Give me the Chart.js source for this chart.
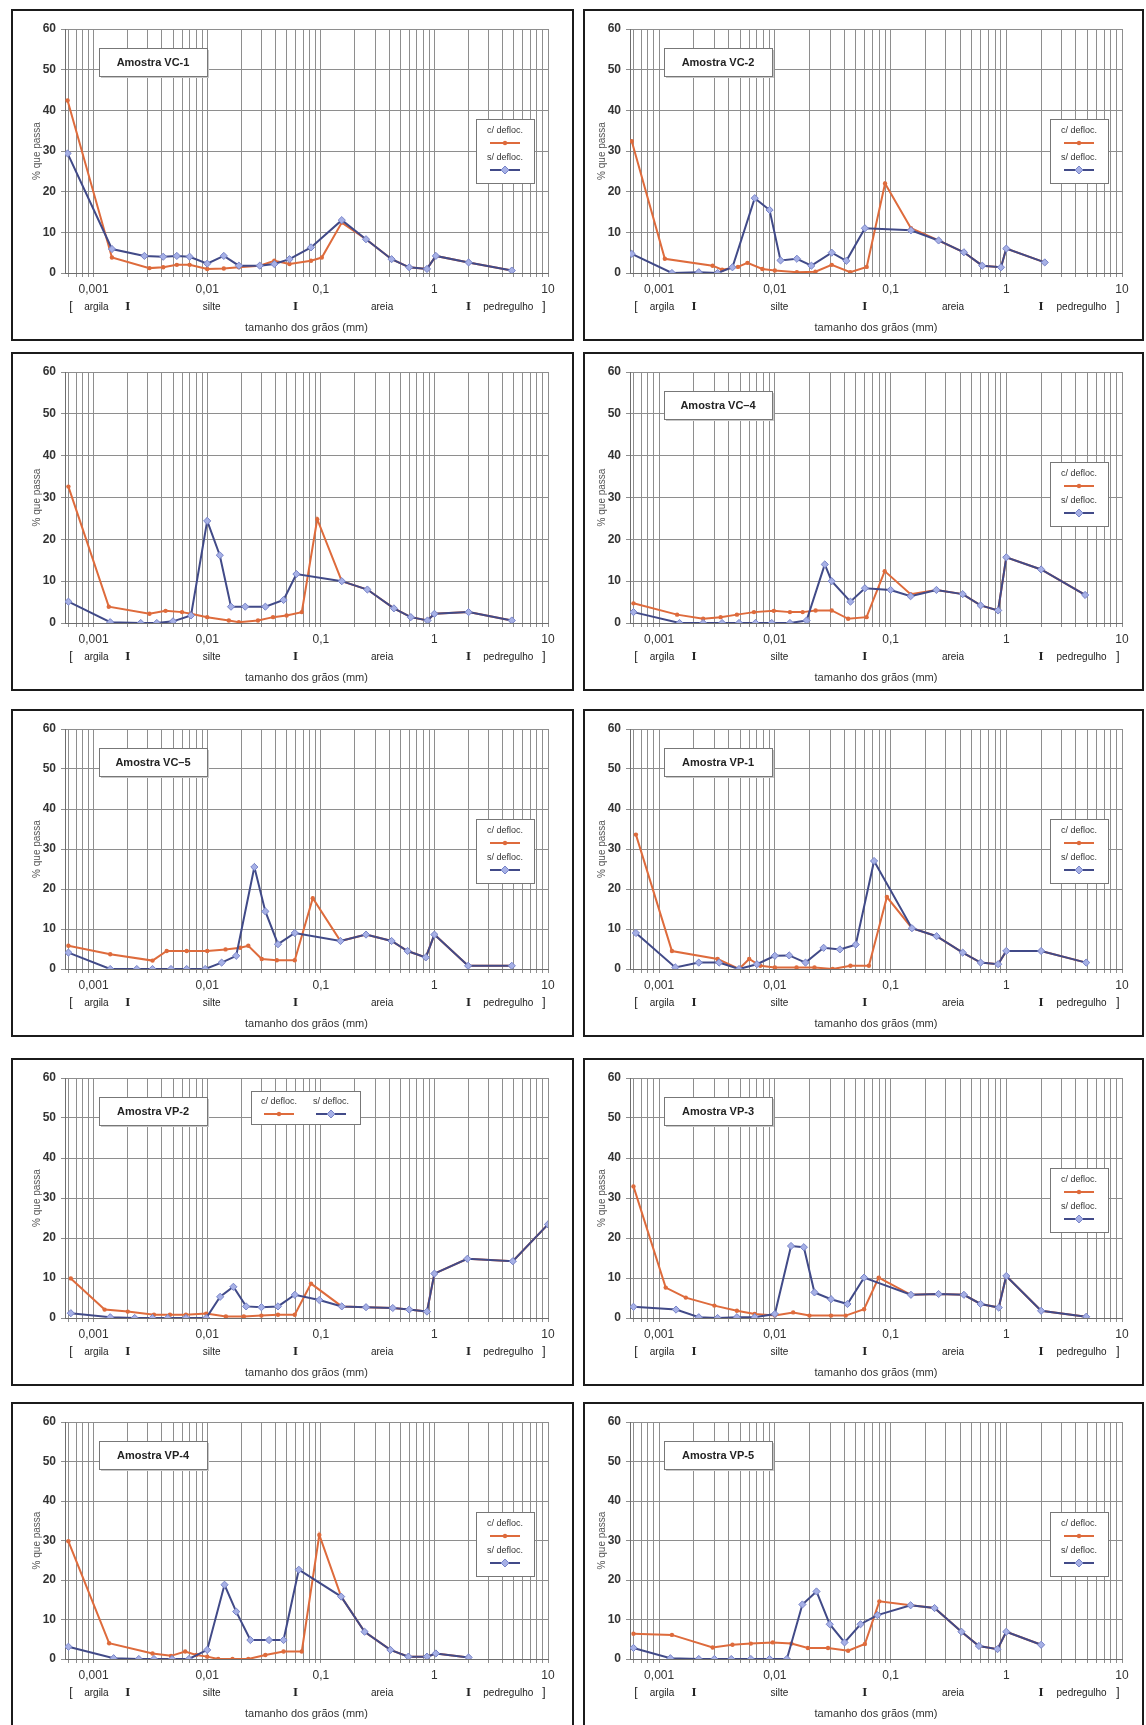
<!DOCTYPE html>
<html>
<head>
<meta charset="utf-8">
<script src="https://cdn.jsdelivr.net/npm/chart.js@4.4.1/dist/chart.umd.min.js"></script>
<style>
body { margin: 0; background: #fff; width: 1146px; height: 1725px; position: relative; overflow: hidden; }
.panel { position: absolute; border: 2px solid #1b1b1b; box-sizing: border-box; background: #fff; }
.panel canvas { position: absolute; left: 0; top: 0; }
</style>
</head>
<body>
<script>
// grain size (mm) vs % que passa, [diameter, percent]
const vc1Com = [[0.00059,42.4],[0.00145,3.8],[0.0031,1.2],[0.0041,1.4],[0.0054,2.0],[0.007,2.0],[0.01,1.0],[0.014,1.1],[0.019,1.4],[0.029,1.8],[0.039,3.0],[0.053,2.2],[0.082,3.0],[0.102,3.8],[0.153,12.4],[0.25,8.3],[0.42,3.4],[0.6,1.4],[0.86,1.0],[1.03,4.2],[2.0,2.6],[4.8,0.6]];
const vc1Sem = [[0.00059,29.4],[0.00145,5.9],[0.0028,4.2],[0.0041,4.0],[0.0054,4.2],[0.007,4.0],[0.01,2.3],[0.014,4.2],[0.019,1.8],[0.029,1.8],[0.039,2.2],[0.053,3.4],[0.082,6.3],[0.153,13.0],[0.25,8.3],[0.42,3.4],[0.6,1.4],[0.86,1.0],[1.03,4.2],[2.0,2.6],[4.8,0.6]];

const vc2Com = [[0.00058,32.4],[0.00112,3.5],[0.0029,1.8],[0.0035,0.8],[0.0048,1.5],[0.0058,2.5],[0.0078,1.0],[0.01,0.6],[0.0155,0.2],[0.0224,0.3],[0.031,2.0],[0.0448,0.2],[0.0622,1.5],[0.0896,22],[0.15,11],[0.26,8],[0.43,5.1],[0.62,1.8],[0.9,1.4],[1.0,6],[2.15,2.6]];
const vc2Sem = [[0.00058,4.7],[0.00129,0],[0.0022,0.2],[0.0032,0],[0.0043,1.4],[0.0067,18.4],[0.009,15.5],[0.0112,3.1],[0.0155,3.5],[0.0207,1.8],[0.031,5.0],[0.0415,3.0],[0.06,11],[0.15,10.5],[0.26,8],[0.43,5.1],[0.62,1.8],[0.9,1.4],[1.0,6],[2.15,2.6]];

const vc3Com = [[0.0006,32.6],[0.00136,3.9],[0.0031,2.2],[0.0043,2.9],[0.006,2.6],[0.0072,2.2],[0.01,1.4],[0.0155,0.6],[0.019,0.2],[0.028,0.6],[0.038,1.4],[0.05,1.8],[0.068,2.6],[0.093,24.8],[0.153,10],[0.257,8],[0.44,3.5],[0.62,1.4],[0.87,0.6],[1.0,2.2],[2.0,2.6],[4.8,0.6]];
const vc3Sem = [[0.0006,5.1],[0.0014,0.2],[0.0026,0],[0.0036,0],[0.005,0.4],[0.0072,1.8],[0.01,24.4],[0.0129,16.2],[0.0162,3.9],[0.0216,3.9],[0.0325,3.9],[0.047,5.5],[0.061,11.7],[0.153,10],[0.257,8],[0.44,3.5],[0.62,1.4],[0.87,0.6],[1.0,2.2],[2.0,2.6],[4.8,0.6]];

const vc4Com = [[0.0006,4.7],[0.00143,2.0],[0.0024,1.0],[0.0034,1.4],[0.0047,2.0],[0.0066,2.6],[0.0098,2.9],[0.0135,2.6],[0.0174,2.6],[0.0225,3.0],[0.031,3.0],[0.043,1.0],[0.062,1.4],[0.089,12.4],[0.149,6.9],[0.249,7.9],[0.42,6.9],[0.6,4.2],[0.85,3.0],[1.0,15.7],[2.0,12.8],[4.8,6.7]];
const vc4Sem = [[0.0006,2.6],[0.0015,0],[0.0024,0],[0.0035,0],[0.0049,0],[0.0068,0],[0.0094,0],[0.0135,0],[0.0188,0.6],[0.027,14],[0.031,10],[0.045,5.1],[0.06,8.3],[0.1,7.9],[0.149,6.4],[0.249,7.9],[0.42,6.9],[0.6,4.2],[0.85,3.0],[1.0,15.7],[2.0,12.8],[4.8,6.7]];

const vc5Com = [[0.0006,5.8],[0.0014,3.7],[0.0033,2.1],[0.0044,4.5],[0.0066,4.5],[0.01,4.5],[0.0145,4.9],[0.0195,5.3],[0.023,5.8],[0.0302,2.5],[0.041,2.2],[0.059,2.2],[0.085,17.7],[0.149,7],[0.25,8.6],[0.42,7],[0.58,4.5],[0.84,2.9],[1.0,8.6],[1.98,0.8],[4.8,0.8]];
const vc5Sem = [[0.0006,4.1],[0.0014,0],[0.0024,0],[0.0033,0],[0.0048,0],[0.0066,0],[0.0096,0],[0.0134,1.6],[0.018,3.3],[0.026,25.5],[0.0325,14.4],[0.042,6.2],[0.059,9],[0.149,7],[0.25,8.6],[0.42,7],[0.58,4.5],[0.84,2.9],[1.0,8.6],[1.98,0.8],[4.8,0.8]];

const vp1Com = [[0.00063,33.6],[0.00129,4.5],[0.0032,2.5],[0.0049,0],[0.006,2.5],[0.0075,0.8],[0.01,0.4],[0.0154,0.4],[0.022,0.4],[0.0316,0],[0.045,0.8],[0.065,0.8],[0.093,18],[0.153,10.2],[0.25,8.2],[0.42,4.1],[0.6,1.6],[0.85,1.2],[1.0,4.5],[2.0,4.5],[4.9,1.6]];
const vp1Sem = [[0.00063,9],[0.00138,0.4],[0.0022,1.6],[0.0033,1.6],[0.0049,0],[0.007,1.2],[0.01,3.3],[0.0133,3.4],[0.0184,1.6],[0.0264,5.3],[0.0365,4.9],[0.05,6.1],[0.072,27],[0.153,10.2],[0.25,8.2],[0.42,4.1],[0.6,1.6],[0.85,1.2],[1.0,4.5],[2.0,4.5],[4.9,1.6]];

const vp2Com = [[0.00063,9.9],[0.00125,2.1],[0.002,1.6],[0.0034,0.8],[0.0047,0.8],[0.0065,0.8],[0.0098,1.1],[0.0146,0.4],[0.021,0.4],[0.03,0.6],[0.042,0.8],[0.059,0.8],[0.082,8.6],[0.153,2.9],[0.25,2.7],[0.43,2.5],[0.6,2.1],[0.86,1.6],[1.0,11.1],[1.95,14.8],[4.9,14.2],[10,23.4]];
const vp2Sem = [[0.00063,1.2],[0.0014,0.2],[0.0023,0],[0.0033,0],[0.0045,0],[0.0065,0],[0.0098,0],[0.013,5.3],[0.017,7.8],[0.022,2.9],[0.03,2.7],[0.042,2.9],[0.059,5.8],[0.097,4.5],[0.153,2.9],[0.25,2.7],[0.43,2.5],[0.6,2.1],[0.86,1.6],[1.0,11.1],[1.95,14.8],[4.9,14.2],[10,23.4]];

const vp3Com = [[0.0006,32.9],[0.00114,7.6],[0.0017,5.1],[0.003,3.1],[0.0047,1.8],[0.0067,1.0],[0.01,0.6],[0.0144,1.4],[0.0199,0.6],[0.0306,0.6],[0.041,0.6],[0.059,2.2],[0.079,10.1],[0.15,5.8],[0.26,6],[0.43,5.8],[0.6,3.5],[0.86,2.6],[1.0,10.5],[2.0,1.8],[4.9,0.3]];
const vp3Sem = [[0.0006,2.8],[0.0014,2.1],[0.0022,0.2],[0.0032,0],[0.0047,0.2],[0.0067,0.2],[0.01,1.0],[0.0138,18],[0.0178,17.7],[0.022,6.4],[0.0306,4.7],[0.0424,3.5],[0.059,10.1],[0.15,5.8],[0.26,6],[0.43,5.8],[0.6,3.5],[0.86,2.6],[1.0,10.5],[2.0,1.8],[4.9,0.3]];

const vp4Com = [[0.0006,29.8],[0.00137,4],[0.0033,1.4],[0.0048,0.8],[0.0064,1.9],[0.008,1.0],[0.01,0.6],[0.0125,0],[0.0167,0],[0.023,0],[0.0325,1],[0.047,1.9],[0.068,1.9],[0.097,31.4],[0.151,15.8],[0.243,6.9],[0.41,2.3],[0.59,0.6],[0.86,0.6],[1.03,1.4],[2.0,0.4]];
const vp4Sem = [[0.0006,3.1],[0.0015,0.2],[0.0025,0],[0.0034,0],[0.0049,0],[0.0069,0],[0.01,2.3],[0.0142,18.8],[0.018,12],[0.024,4.8],[0.035,4.8],[0.047,4.8],[0.064,22.6],[0.151,15.8],[0.243,6.9],[0.41,2.3],[0.59,0.6],[0.86,0.6],[1.03,1.4],[2.0,0.4]];

const vp5Com = [[0.0006,6.4],[0.00129,6.1],[0.0029,2.9],[0.0043,3.6],[0.0062,3.9],[0.0096,4.2],[0.0139,3.9],[0.0193,2.8],[0.0288,2.8],[0.043,2.1],[0.06,3.8],[0.08,14.6],[0.149,13.6],[0.24,12.9],[0.41,6.9],[0.58,3.3],[0.84,2.5],[1.0,6.9],[2.0,3.6]];
const vp5Sem = [[0.0006,2.8],[0.00125,0.2],[0.0022,0],[0.003,0],[0.0042,0],[0.0062,0],[0.009,0],[0.0127,0],[0.0173,13.8],[0.0229,17.1],[0.0298,8.8],[0.04,4.2],[0.055,8.8],[0.077,11.1],[0.149,13.6],[0.24,12.9],[0.41,6.9],[0.58,3.3],[0.84,2.5],[1.0,6.9],[2.0,3.6]];

const sampleTitles = ['Amostra VC-1', 'Amostra VC-2', '', 'Amostra VC\u20134', 'Amostra VC\u20135',
                      'Amostra VP-1', 'Amostra VP-2', 'Amostra VP-3', 'Amostra VP-4', 'Amostra VP-5'];
const comSeries = [vc1Com, vc2Com, vc3Com, vc4Com, vc5Com, vp1Com, vp2Com, vp3Com, vp4Com, vp5Com];
const semSeries = [vc1Sem, vc2Sem, vc3Sem, vc4Sem, vc5Sem, vp1Sem, vp2Sem, vp3Sem, vp4Sem, vp5Sem];
const legendModes = ['side', 'side', 'none', 'side', 'side', 'side', 'top', 'side', 'side', 'side'];
const seriesNames = ['c/ defloc.', 's/ defloc.'];

// soil fractions along the size axis
const fractionNames = ['argila', 'silte', 'areia', 'pedregulho'];
const fractionBounds = [0.002, 0.06, 2];

const X_MIN = 0.00056, X_MAX = 10;
const Y_TICKS = [0, 10, 20, 30, 40, 50, 60];

const ORANGE = '#de6b3c';
const BLUE = '#414a88';
const BLUE_PT = '#a6b0e6';
const BLUE_PT_EDGE = '#7884c8';
const FONT = '"Liberation Sans", Arial, sans-serif';

// panel frames
const colX = [11, 583], colW = [563, 561];
const plotLeftGap = [54, 47], plotRightGap = [26, 22];
const rowY = [9, 352, 709, 1058, 1402], rowH = [332, 339, 328, 328, 325];

// log grid: 1..9 per decade
const gridValues = [];
for (let e = -4; e <= 1; e++) {
  for (let m = 1; m <= 9; m++) {
    const v = parseFloat((m * Math.pow(10, e)).toPrecision(3));
    if (v >= X_MIN && v <= X_MAX) gridValues.push(v);
  }
}

function isDecade(v) {
  const l = Math.log10(v);
  return Math.abs(l - Math.round(l)) < 1e-9;
}

function drawSample(ctx, cx, cy, color, style) {
  ctx.strokeStyle = color;
  ctx.lineWidth = 2;
  ctx.beginPath();
  ctx.moveTo(cx - 15, cy);
  ctx.lineTo(cx + 15, cy);
  ctx.stroke();
  if (style === 'rectRot') {
    ctx.fillStyle = BLUE_PT;
    ctx.strokeStyle = BLUE_PT_EDGE;
    ctx.lineWidth = 1;
    ctx.beginPath();
    ctx.moveTo(cx, cy - 4); ctx.lineTo(cx + 4, cy); ctx.lineTo(cx, cy + 4); ctx.lineTo(cx - 4, cy);
    ctx.closePath();
    ctx.fill(); ctx.stroke();
  } else {
    ctx.fillStyle = color;
    ctx.beginPath();
    ctx.arc(cx, cy, 2.2, 0, Math.PI * 2);
    ctx.fill();
  }
}

const decor = {
  id: 'decor',
  afterDraw(chart, args, opts) {
    const ctx = chart.ctx;
    const a = chart.chartArea;
    const x = chart.scales.x;
    ctx.save();
    ctx.textAlign = 'center';
    ctx.textBaseline = 'middle';

    // fraction row under the axis
    const fy = a.bottom + 34;
    ctx.fillStyle = '#222';
    ctx.font = '10px ' + FONT;
    const edges = [X_MIN, ...fractionBounds, X_MAX];
    fractionNames.forEach((n, i) => {
      ctx.fillText(n, x.getPixelForValue(Math.sqrt(edges[i] * edges[i + 1])), fy);
    });
    ctx.font = 'bold 13px "Liberation Serif", serif';
    fractionBounds.forEach(b => ctx.fillText('I', x.getPixelForValue(b), fy));
    ctx.font = '12px ' + FONT;
    ctx.fillText('[', a.left + 6, fy);
    ctx.fillText(']', a.right - 4, fy);

    // axis title
    ctx.font = '11px ' + FONT;
    ctx.fillStyle = '#333';
    ctx.fillText('tamanho dos gr\u00e3os (mm)', (a.left + a.right) / 2, a.bottom + 55);

    // sample name box
    if (opts.title) {
      const bx = a.left + 34, by = a.top + 19, bw = 108, bh = 28;
      ctx.fillStyle = '#c8c8c8';
      ctx.fillRect(bx + 2, by + 2, bw, bh);
      ctx.fillStyle = '#fff';
      ctx.fillRect(bx, by, bw, bh);
      ctx.strokeStyle = '#777';
      ctx.lineWidth = 1;
      ctx.strokeRect(bx + 0.5, by + 0.5, bw, bh);
      ctx.fillStyle = '#222';
      ctx.font = 'bold 11px ' + FONT;
      ctx.fillText(opts.title, bx + bw / 2, by + bh / 2 + 1);
    }

    // legend
    const ds = chart.data.datasets;
    if (opts.legend === 'side') {
      const lw = 58, lh = 64;
      const lx = a.right - 14 - lw, ly = a.top + 90;
      ctx.fillStyle = '#fff';
      ctx.fillRect(lx, ly, lw, lh);
      ctx.strokeStyle = '#777';
      ctx.lineWidth = 1;
      ctx.strokeRect(lx + 0.5, ly + 0.5, lw, lh);
      ctx.font = '9px ' + FONT;
      ctx.fillStyle = '#333';
      ctx.fillText(ds[0].label, lx + lw / 2, ly + 12);
      drawSample(ctx, lx + lw / 2, ly + 24, ORANGE, 'circle');
      ctx.font = '9px ' + FONT;
      ctx.fillStyle = '#333';
      ctx.fillText(ds[1].label, lx + lw / 2, ly + 39);
      drawSample(ctx, lx + lw / 2, ly + 51, BLUE, 'rectRot');
    } else if (opts.legend === 'top') {
      const lx = a.left + 186, ly = a.top + 13, lw = 109, lh = 33;
      ctx.fillStyle = '#fff';
      ctx.fillRect(lx, ly, lw, lh);
      ctx.strokeStyle = '#777';
      ctx.lineWidth = 1;
      ctx.strokeRect(lx + 0.5, ly + 0.5, lw, lh);
      ctx.font = '9px ' + FONT;
      ctx.fillStyle = '#333';
      ctx.fillText(ds[0].label, lx + 28, ly + 11);
      ctx.fillText(ds[1].label, lx + 80, ly + 11);
      drawSample(ctx, lx + 28, ly + 23, ORANGE, 'circle');
      drawSample(ctx, lx + 80, ly + 23, BLUE, 'rectRot');
    }
    ctx.restore();
  }
};

function toPoints(arr) {
  return arr.map(p => ({ x: p[0], y: p[1] }));
}

for (let i = 0; i < sampleTitles.length; i++) {
  const row = Math.floor(i / 2), col = i % 2;
  const panel = document.createElement('div');
  panel.className = 'panel';
  panel.style.left = colX[col] + 'px';
  panel.style.top = rowY[row] + 'px';
  panel.style.width = colW[col] + 'px';
  panel.style.height = rowH[row] + 'px';
  const canvas = document.createElement('canvas');
  const cw = colW[col] - 4, ch = rowH[row] - 4;
  canvas.width = cw; canvas.height = ch;
  canvas.style.width = cw + 'px'; canvas.style.height = ch + 'px';
  panel.appendChild(canvas);
  document.body.appendChild(panel);

  new Chart(canvas, {
    type: 'line',
    data: {
      datasets: [{
        label: seriesNames[0],
        data: toPoints(comSeries[i]),
        borderColor: ORANGE,
        backgroundColor: ORANGE,
        borderWidth: 2,
        pointStyle: 'circle',
        pointRadius: 2.2,
        pointBorderWidth: 0,
        order: 1
      }, {
        label: seriesNames[1],
        data: toPoints(semSeries[i]),
        borderColor: BLUE,
        backgroundColor: BLUE_PT,
        pointBorderColor: BLUE_PT_EDGE,
        borderWidth: 2,
        pointStyle: 'rectRot',
        pointRadius: 3.6,
        pointBorderWidth: 1,
        order: 0
      }]
    },
    options: {
      responsive: false,
      animation: false,
      devicePixelRatio: 1,
      layout: {
        padding: { left: plotLeftGap[col] - 36, top: 18, right: plotRightGap[col] - 2, bottom: 0 }
      },
      plugins: {
        legend: { display: false },
        tooltip: { enabled: false },
        decor: { title: sampleTitles[i], legend: legendModes[i] }
      },
      scales: {
        x: {
          type: 'logarithmic',
          min: X_MIN,
          max: X_MAX,
          afterBuildTicks: scale => { scale.ticks = gridValues.map(v => ({ value: v })); },
          afterFit: scale => { scale.height = 66; },
          ticks: {
            autoSkip: false,
            maxRotation: 0,
            padding: 5,
            color: '#333',
            font: { family: FONT, size: 12 },
            callback: v => isDecade(v) ? String(v).replace('.', ',') : ''
          },
          grid: { color: '#8e8e8e', lineWidth: 1, tickLength: 4 },
          border: { color: '#6e6e6e' }
        },
        y: {
          min: 0,
          max: 60,
          afterBuildTicks: scale => { scale.ticks = Y_TICKS.map(v => ({ value: v })); },
          afterFit: scale => { scale.width = 34; },
          ticks: {
            padding: 5,
            color: '#333',
            font: { family: FONT, size: 12, weight: 'bold' }
          },
          title: {
            display: true,
            text: '% que passa',
            color: '#555',
            font: { family: FONT, size: 10 },
            padding: { top: 0, bottom: 2 }
          },
          grid: { color: '#8e8e8e', lineWidth: 1, tickLength: 4 },
          border: { color: '#6e6e6e' }
        }
      }
    },
    plugins: [decor]
  });
}
</script>
</body>
</html>
